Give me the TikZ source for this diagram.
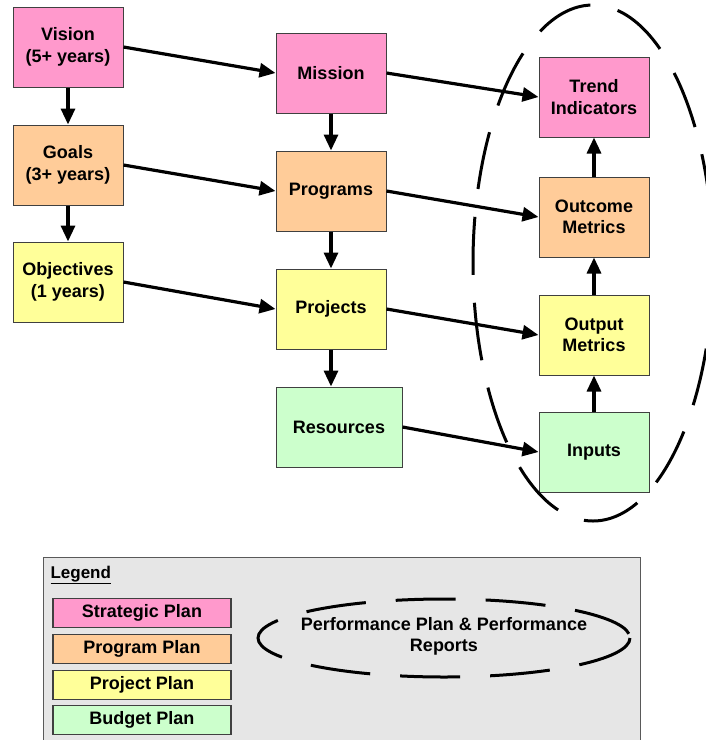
\documentclass[tikz,border=0pt]{standalone}
\usepackage{fontspec}
\setmainfont{Liberation Sans}
\usetikzlibrary{arrows.meta}

\definecolor{stratcol}{HTML}{FF99CC}
\definecolor{progcol}{HTML}{FFCC99}
\definecolor{projcol}{HTML}{FFFF99}
\definecolor{budgcol}{HTML}{CCFFCC}
\definecolor{legcol}{HTML}{E6E6E6}

\tikzset{
  plan/.style={draw=black!75, line width=1pt, minimum width=110pt, minimum height=80pt,
    align=center, inner sep=2pt, font=\fontsize{18}{21.5}\selectfont\bfseries},
  link/.style={line width=3.2pt, -{Triangle[length=16pt,width=14pt]}},
  legitem/.style={draw=black!75, line width=1.2pt, minimum width=178pt, minimum height=29pt,
    inner sep=0pt, font=\fontsize{18}{20}\selectfont\bfseries},
  perf/.style={line width=3pt, dash pattern=on 58pt off 28pt}
}

\begin{document}
\begin{tikzpicture}[x=1pt,y=-1pt]
            \useasboundingbox (0,0) rectangle (706,740);

            \node[plan, fill=stratcol] (vision) at (68,47) {Vision\\(5+ years)};
            \node[plan, fill=progcol] (goals) at (68,165) {Goals\\(3+ years)};
            \node[plan, fill=projcol] (objectives) at (68,282) {Objectives\\(1 years)};

            \node[plan, fill=stratcol] (mission) at (331,73) {Mission};
            \node[plan, fill=progcol] (programs) at (331,191) {Programs};
            \node[plan, fill=projcol] (projects) at (331,309) {Projects};
            \node[plan, fill=budgcol, minimum width=126pt] (resources) at (339,427) {Resources};

            \node[plan, fill=stratcol] (trend) at (594,97) {Trend\\Indicators};
            \node[plan, fill=progcol] (outcome) at (594,217) {Outcome\\Metrics};
            \node[plan, fill=projcol] (output) at (594,335) {Output\\Metrics};
            \node[plan, fill=budgcol] (inputs) at (594,452) {Inputs};

            \draw[link] (vision) -- (goals);
            \draw[link] (goals) -- (objectives);
            \draw[link] (mission) -- (programs);
            \draw[link] (programs) -- (projects);
            \draw[link] (projects) -- (projects.south |- resources.north);
            \draw[link] (inputs) -- (output);
            \draw[link] (output) -- (outcome);
            \draw[link] (outcome) -- (trend);

            \draw[link] (vision.east) -- (mission.west);
            \draw[link] (goals.east) -- (programs.west);
            \draw[link] (objectives.east) -- (projects.west);
            \draw[link] (mission.east) -- (trend.west);
            \draw[link] (programs.east) -- (outcome.west);
            \draw[link] (projects.east) -- (output.west);
            \draw[link] (resources.east) -- (inputs.west);

            \draw[perf] (593,263) ellipse [x radius=120, y radius=258];

            \draw[fill=legcol, draw=black!65, line width=1pt] (43,557) rectangle (640,760);
            \node[anchor=west, font=\fontsize{17}{19}\selectfont\bfseries] (legend) at (47,575) {\underline{Legend}};
            \node[legitem, fill=stratcol] (lstrat) at (142,613) {Strategic Plan};
            \node[legitem, fill=progcol] (lprog) at (142,649) {Program Plan};
            \node[legitem, fill=projcol] (lproj) at (142,685) {Project Plan};
            \node[legitem, fill=budgcol] (lbudg) at (142,720) {Budget Plan};

            \draw[perf, dash pattern=on 60pt off 30pt] (444,638) ellipse [x radius=186, y radius=39];
            \node[align=center, font=\fontsize{18}{21}\selectfont\bfseries] (lperf) at (444,636) {Performance Plan \& Performance\\Reports};

\end{tikzpicture}
\end{document}
